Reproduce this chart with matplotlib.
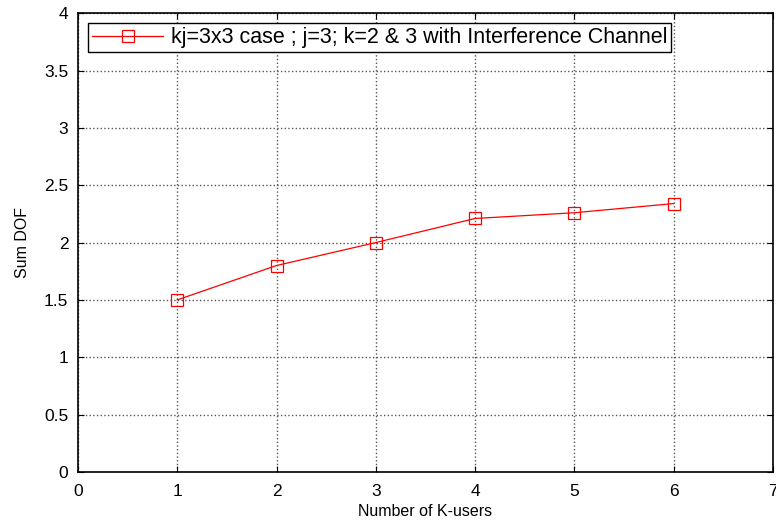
import matplotlib
matplotlib.use("Agg")
import matplotlib.pyplot as plt

plt.rcParams['font.family'] = ['Liberation Sans', 'DejaVu Sans']

k_users = [1, 2, 3, 4, 5, 6]
sum_dof = [1.5, 1.8, 2.0, 2.21, 2.26, 2.34]
x_ticks = [0, 1, 2, 3, 4, 5, 6, 7]
y_ticks = [0, 0.5, 1, 1.5, 2, 2.5, 3, 3.5, 4]
y_labels = ["0", "0.5", "1", "1.5", "2", "2.5", "3", "3.5", "4"]

fig = plt.figure(figsize=(7.76, 5.26), dpi=100)
ax = fig.add_axes([0.1005, 0.1027, 0.8955, 0.8723])

ax.plot(k_users, sum_dof, color='red', linewidth=0.9, marker='s', markersize=8,
        markerfacecolor='none', markeredgecolor='red', markeredgewidth=0.9,
        label="kj=3x3 case ; j=3; k=2 & 3 with Interference Channel")

ax.set_xlim(0, 7)
ax.set_ylim(0, 4)
ax.set_xticks(x_ticks)
ax.set_yticks(y_ticks)
ax.set_yticklabels(y_labels)
ax.tick_params(direction='in', top=True, right=True, labelsize=12.5, length=4)
ax.tick_params(axis='x', pad=9)
ax.tick_params(axis='y', pad=7)
ax.grid(True, color='#555555', linestyle=':', linewidth=1.0)
for s in ax.spines.values():
    s.set_linewidth(1.2)

ax.set_xlabel("Number of K-users", fontsize=11.5, labelpad=3)
ax.set_ylabel("Sum DOF", fontsize=11.5, labelpad=10)

leg = ax.legend(loc='upper left', fontsize=15.5, fancybox=False, framealpha=1,
                edgecolor='black', borderpad=0.2, handlelength=3.3,
                handletextpad=0.35, bbox_to_anchor=(0.0, 1.0), borderaxespad=0.45)
leg.get_frame().set_linewidth(1.0)

fig.savefig("out.png", dpi=100)
